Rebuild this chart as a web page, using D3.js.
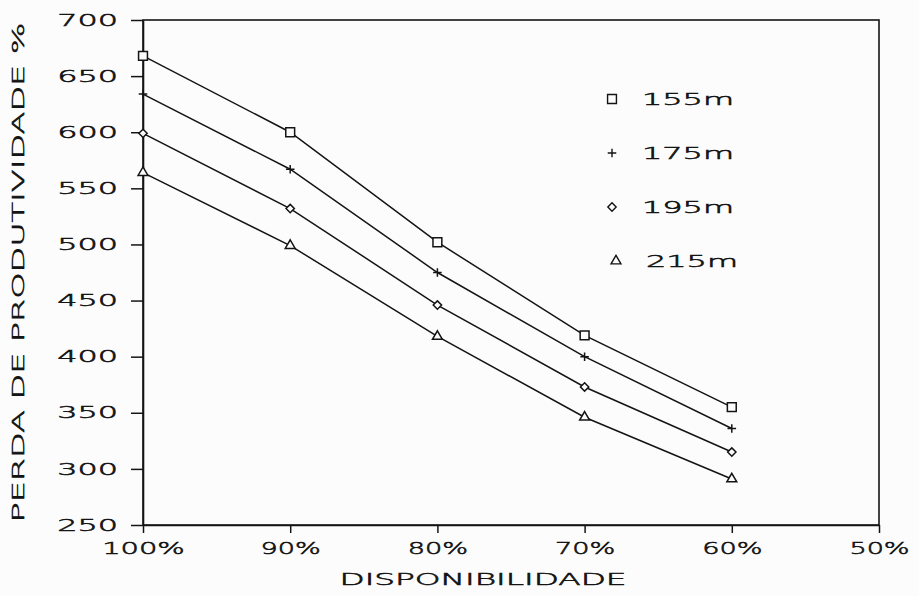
<!DOCTYPE html>
<html>
<head>
<meta charset="utf-8">
<script src="https://cdn.jsdelivr.net/npm/d3@7"></script>
<style>
  html, body { margin: 0; padding: 0; background: #fcfcfc; }
  svg { display: block; }
  text { font-family: "DejaVu Sans", sans-serif; font-weight: 200; fill: #141414;
         stroke: #141414; stroke-width: 0.55px; }
</style>
</head>
<body>
<svg id="chart" width="919" height="596"></svg>
<script>
// Disponibilidade (%) on the x axis
const availability = [100, 90, 80, 70, 60];
// Perda de produtividade (%) for each depth
const loss155 = [668, 600, 502, 419, 355];
const loss175 = [634, 567, 475, 400, 336];
const loss195 = [599, 532, 446, 373, 315];
const loss215 = [564, 499, 418, 346, 291];
const seriesNames = ["155m", "175m", "195m", "215m"];
const xTickValues = [100, 90, 80, 70, 60, 50];
const yTickValues = [250, 300, 350, 400, 450, 500, 550, 600, 650, 700];
const xTitle = "DISPONIBILIDADE";
const yTitle = "PERDA DE PRODUTIVIDADE %";

const series = [loss155, loss175, loss195, loss215].map((vals, i) => ({
  name: seriesNames[i],
  points: availability.map((a, j) => ({ x: a, y: vals[j] }))
}));

const svg = d3.select("#chart");
const plotLeft = 143, plotRight = 879, plotTop = 20, plotBottom = 525;
const ink = "#141414";
const paper = "#fcfcfc";

const x = d3.scaleLinear().domain([100, 50]).range([plotLeft, plotRight]);
const y = d3.scaleLinear().domain([250, 700]).range([plotBottom, plotTop]);

// wide plotter-style lettering: stretch each string to a fixed pitch per character
function stretch(sel, pitch, gap) {
  sel.attr("lengthAdjust", "spacingAndGlyphs")
     .attr("textLength", function () {
       const n = this.textContent.length;
       return n * pitch - gap;
     });
}

// frame
svg.append("rect")
  .attr("x", plotLeft).attr("y", plotTop)
  .attr("width", plotRight - plotLeft).attr("height", plotBottom - plotTop)
  .attr("fill", "none").attr("stroke", ink).attr("stroke-width", 1.6);

// y axis
const yAxis = svg.append("g")
  .attr("transform", `translate(${plotLeft},0)`)
  .call(d3.axisLeft(y).tickValues(yTickValues).tickSize(12).tickSizeOuter(0).tickPadding(13));
yAxis.select(".domain").attr("stroke", ink).attr("stroke-width", 1.6);
yAxis.selectAll(".tick line").attr("stroke", ink).attr("stroke-width", 1.5);
yAxis.selectAll(".tick text")
  .attr("font-size", 16).attr("fill", ink)
  .style("font-family", "'DejaVu Sans', sans-serif")
  .call(stretch, 22.6, 7);

// x axis
const xAxis = svg.append("g")
  .attr("transform", `translate(0,${plotBottom})`)
  .call(d3.axisBottom(x).tickValues(xTickValues).tickFormat(d => d + "%")
    .tickSize(8).tickSizeOuter(0).tickPadding(10));
xAxis.select(".domain").attr("stroke", ink).attr("stroke-width", 1.6);
xAxis.selectAll(".tick line").attr("stroke", ink).attr("stroke-width", 1.5);
xAxis.selectAll(".tick text")
  .attr("font-size", 16).attr("fill", ink)
  .style("font-family", "'DejaVu Sans', sans-serif")
  .call(stretch, 22.4, 7);

// axis titles
svg.append("text")
  .attr("x", (plotLeft + plotRight) / 2 - 28).attr("y", 585)
  .attr("text-anchor", "middle").attr("font-size", 16)
  .text(xTitle)
  .attr("textLength", 287).attr("lengthAdjust", "spacingAndGlyphs");

svg.append("text")
  .attr("transform", `translate(24,${(plotTop + plotBottom) / 2}) rotate(-90)`)
  .attr("text-anchor", "middle").attr("font-size", 16)
  .text(yTitle)
  .attr("textLength", 500).attr("lengthAdjust", "spacingAndGlyphs");

// markers, one per series
const symbols = [
  d3.symbol().type(d3.symbolSquare2).size(100),
  d3.symbol().type(d3.symbolPlus).size(26),
  d3.symbol().type(d3.symbolDiamond2).size(44),
  d3.symbol().type(d3.symbolTriangle2).size(70)
];

const line = d3.line().x(d => x(d.x)).y(d => y(d.y));

const g = svg.append("g");
series.forEach((s, i) => {
  g.append("path")
    .datum(s.points)
    .attr("d", line)
    .attr("fill", "none").attr("stroke", ink).attr("stroke-width", 1.5);
  g.selectAll(null)
    .data(s.points)
    .join("path")
    .attr("transform", d => `translate(${x(d.x)},${y(d.y)})`)
    .attr("d", symbols[i]())
    .attr("fill", i === 1 ? "none" : paper)
    .attr("stroke", ink).attr("stroke-width", 1.5);
});

// legend
const legend = svg.append("g").attr("transform", "translate(612,99)");
seriesNames.forEach((name, i) => {
  const row = legend.append("g").attr("transform", `translate(${i === 3 ? 4 : 0},${i * 54})`);
  row.append("path")
    .attr("d", symbols[i]())
    .attr("fill", i === 1 ? "none" : paper)
    .attr("stroke", ink).attr("stroke-width", 1.4);
  row.append("text")
    .attr("x", 30).attr("y", 6)
    .attr("font-size", 16)
    .text(name)
    .attr("textLength", 92).attr("lengthAdjust", "spacingAndGlyphs");
});
</script>
</body>
</html>
